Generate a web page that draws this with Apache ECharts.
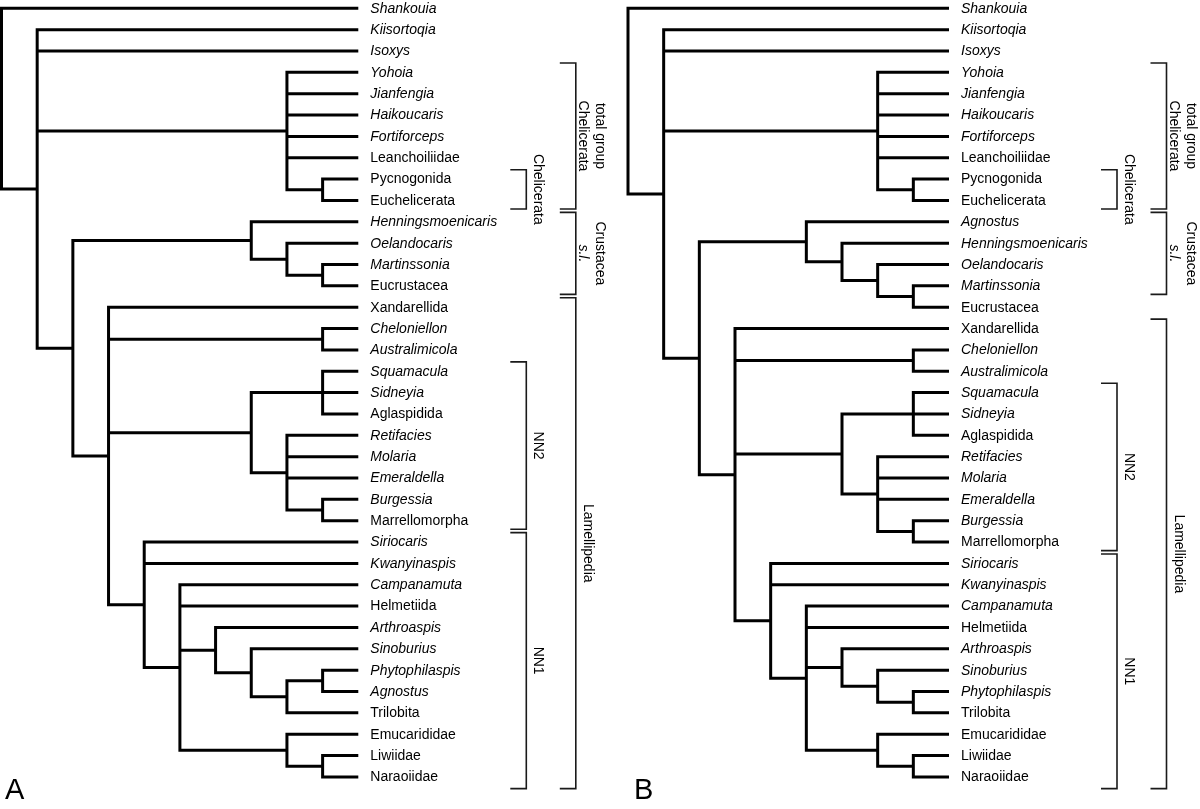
<!DOCTYPE html>
<html><head><meta charset="utf-8">
<script src="https://cdn.jsdelivr.net/npm/echarts@6/dist/echarts.min.js"></script>
<style>html,body{margin:0;padding:0;background:#fff}#c{width:1200px;height:809px}</style>
</head><body><div id="c"></div>
<script>
// Tree topologies (Newick). The number after ")" is the node's level on the horizontal axis.
const treeA = "(Shankouia,(Kiisortoqia,Isoxys,(Yohoia,Jianfengia,Haikoucaris,Fortiforceps,Leanchoiliidae,(Pycnogonida,Euchelicerata)9)8,((Henningsmoenicaris,(Oelandocaris,(Martinssonia,Eucrustacea)9)8)7,(Xandarellida,(Cheloniellon,Australimicola)9,((Squamacula,Sidneyia,Aglaspidida)9,(Retifacies,Molaria,Emeraldella,(Burgessia,Marrellomorpha)9)8)7,(Siriocaris,Kwanyinaspis,(Campanamuta,Helmetiida,(Arthroaspis,(Sinoburius,((Phytophilaspis,Agnostus)9,Trilobita)8)7)6,(Emucarididae,(Liwiidae,Naraoiidae)9)8)5)4)3)2)1)0";
const tipLevelA = 10;
const treeB = "(Shankouia,(Kiisortoqia,Isoxys,(Yohoia,Jianfengia,Haikoucaris,Fortiforceps,Leanchoiliidae,(Pycnogonida,Euchelicerata)8)7,((Agnostus,(Henningsmoenicaris,(Oelandocaris,(Martinssonia,Eucrustacea)8)7)6)5,(Xandarellida,(Cheloniellon,Australimicola)8,((Squamacula,Sidneyia,Aglaspidida)8,(Retifacies,Molaria,Emeraldella,(Burgessia,Marrellomorpha)8)7)6,(Siriocaris,Kwanyinaspis,(Campanamuta,Helmetiida,(Arthroaspis,(Sinoburius,(Phytophilaspis,Trilobita)8)7)6,(Emucarididae,(Liwiidae,Naraoiidae)8)7)5)4)3)2)1)0";
const tipLevelB = 9;

// Taxa written in roman (all others italic)
const romanTaxa = ['Leanchoiliidae','Pycnogonida','Euchelicerata','Eucrustacea','Xandarellida','Aglaspidida','Marrellomorpha','Helmetiida','Trilobita','Emucarididae','Liwiidae','Naraoiidae'];

// Brackets: [first taxon, last taxon, label lines]
const bracketsA = [
  ['Yohoia','Euchelicerata',['total group','Chelicerata']],
  ['Pycnogonida','Euchelicerata',['Chelicerata']],
  ['Henningsmoenicaris','Eucrustacea',['Crustacea','s.l.']],
  ['Xandarellida','Naraoiidae',['Lamellipedia']],
  ['Squamacula','Marrellomorpha',['NN2']],
  ['Siriocaris','Naraoiidae',['NN1']]
];
const bracketsB = [
  ['Yohoia','Euchelicerata',['total group','Chelicerata']],
  ['Pycnogonida','Euchelicerata',['Chelicerata']],
  ['Agnostus','Martinssonia',['Crustacea','s.l.']],
  ['Xandarellida','Naraoiidae',['Lamellipedia']],
  ['Squamacula','Marrellomorpha',['NN2']],
  ['Siriocaris','Naraoiidae',['NN1']]
];
const italicLabels = ['s.l.'];
const panelLetters = ['A','B'];

const FONT = '"Liberation Sans", Arial, Helvetica, sans-serif';

function parseNewick(str, tipLevel) {
  let i = 0; const tips = []; const nodes = [];
  function node() {
    if (str[i] === '(') {
      i++; const children = [];
      while (true) {
        children.push(node());
        if (str[i] === ',') { i++; continue; }
        if (str[i] === ')') { i++; break; }
      }
      let num = '';
      while (i < str.length && /[0-9.]/.test(str[i])) num += str[i++];
      const n = { children, level: +num };
      n.row = (children[0].row + children[children.length - 1].row) / 2;
      nodes.push(n); return n;
    } else {
      let name = '';
      while (i < str.length && !/[,()]/.test(str[i])) name += str[i++];
      const t = { name, level: tipLevel, row: tips.length };
      tips.push(t); return t;
    }
  }
  node();
  return { tips, nodes };
}

const panels = [
  { tree: parseNewick(treeA, tipLevelA), tipLevel: tipLevelA, brackets: bracketsA },
  { tree: parseNewick(treeB, tipLevelB), tipLevel: tipLevelB, brackets: bracketsB }
];

const series = [];
panels.forEach((p, pi) => {
  const nodes = p.tree.nodes, tips = p.tree.tips;
  // branches
  series.push({
    type: 'custom', xAxisIndex: pi, yAxisIndex: pi, clip: false, silent: true,
    data: nodes.map(n => [n.level, n.row]),
    renderItem: function (params, api) {
      const n = nodes[params.dataIndex];
      const c = n.children;
      const first = c[0], last = c[c.length - 1];
      const children = [];
      const pts = [
        api.coord([first.level, first.row]),
        api.coord([n.level, first.row]),
        api.coord([n.level, last.row]),
        api.coord([last.level, last.row])
      ];
      children.push({ type: 'polyline', shape: { points: pts },
        style: { stroke: '#000', lineWidth: 3, fill: null, lineJoin: 'miter', lineCap: 'butt' } });
      for (let k = 1; k < c.length - 1; k++) {
        const a = api.coord([n.level, c[k].row]), b = api.coord([c[k].level, c[k].row]);
        children.push({ type: 'line', shape: { x1: a[0], y1: a[1], x2: b[0], y2: b[1] },
          style: { stroke: '#000', lineWidth: 3, lineCap: 'butt' } });
      }
      return { type: 'group', children };
    }
  });
  // tip labels
  series.push({
    type: 'custom', xAxisIndex: pi, yAxisIndex: pi, clip: false, silent: true,
    data: tips.map(t => [t.level, t.row]),
    renderItem: function (params, api) {
      const t = tips[params.dataIndex];
      const q = api.coord([t.level, t.row]);
      const ital = romanTaxa.indexOf(t.name) < 0;
      return { type: 'text', x: q[0] + 12, y: q[1] + 0.5,
        style: { text: t.name, fill: '#000', align: 'left', verticalAlign: 'middle',
          font: (ital ? 'italic ' : '') + '14px ' + FONT } };
    }
  });
  // brackets
  const rowOf = name => tips.find(t => t.name === name).row;
  const br = p.brackets.map(b => ({ from: rowOf(b[0]), to: rowOf(b[1]), lines: b[2] }));
  br.forEach(b => {
    b.inner = br.some(o => o !== b && o.from <= b.from && o.to >= b.to && (o.to - o.from) > (b.to - b.from));
  });
  series.push({
    type: 'custom', xAxisIndex: pi, yAxisIndex: pi, clip: false, silent: true,
    data: br.map(b => [p.tipLevel, b.from, b.to]),
    renderItem: function (params, api) {
      const b = br[params.dataIndex];
      const top = api.coord([p.tipLevel, b.from - 0.44]);
      const bot = api.coord([p.tipLevel, b.to + (b.to === tips.length - 1 ? 0.55 : 0.4)]);
      const x = top[0] + (b.inner ? 168 : 217.5);
      const children = [{ type: 'polyline',
        shape: { points: [[x - 16, top[1]], [x, top[1]], [x, bot[1]], [x - 16, bot[1]]] },
        style: { stroke: '#1a1a1a', lineWidth: 1.6, fill: null, lineJoin: 'miter' } }];
      const cy = (top[1] + bot[1]) / 2;
      const n = b.lines.length;
      b.lines.forEach((ln, i) => {
        const off = n === 1 ? 12 : 7.5 + (n - 1 - i) * 16.5;
        const ital = italicLabels.indexOf(ln) >= 0;
        children.push({ type: 'text', x: x + off, y: cy, rotation: -Math.PI / 2,
          style: { text: ln, fill: '#000', align: 'center', verticalAlign: 'middle',
            font: (ital ? 'italic ' : '') + '14px ' + FONT } });
      });
      return { type: 'group', children };
    }
  });
});

const chart = echarts.init(document.getElementById('c'), null, { renderer: 'canvas' });
const maxRow = panels[0].tree.tips.length - 1;
chart.setOption({
  backgroundColor: '#fff',
  animation: false,
  grid: [
    { left: 1.5, top: 8.3, width: 356.8, height: 768.6 },
    { left: 628, top: 8.3, width: 321, height: 768.6 }
  ],
  xAxis: [
    { gridIndex: 0, type: 'value', min: 0, max: tipLevelA, show: false },
    { gridIndex: 1, type: 'value', min: 0, max: tipLevelB, show: false }
  ],
  yAxis: [
    { gridIndex: 0, type: 'value', min: 0, max: maxRow, inverse: true, show: false },
    { gridIndex: 1, type: 'value', min: 0, max: maxRow, inverse: true, show: false }
  ],
  graphic: [
    { type: 'text', left: 5, top: 776, style: { text: panelLetters[0], font: '29px ' + FONT, fill: '#000' } },
    { type: 'text', left: 634, top: 776, style: { text: panelLetters[1], font: '29px ' + FONT, fill: '#000' } }
  ],
  series
});
</script></body></html>
